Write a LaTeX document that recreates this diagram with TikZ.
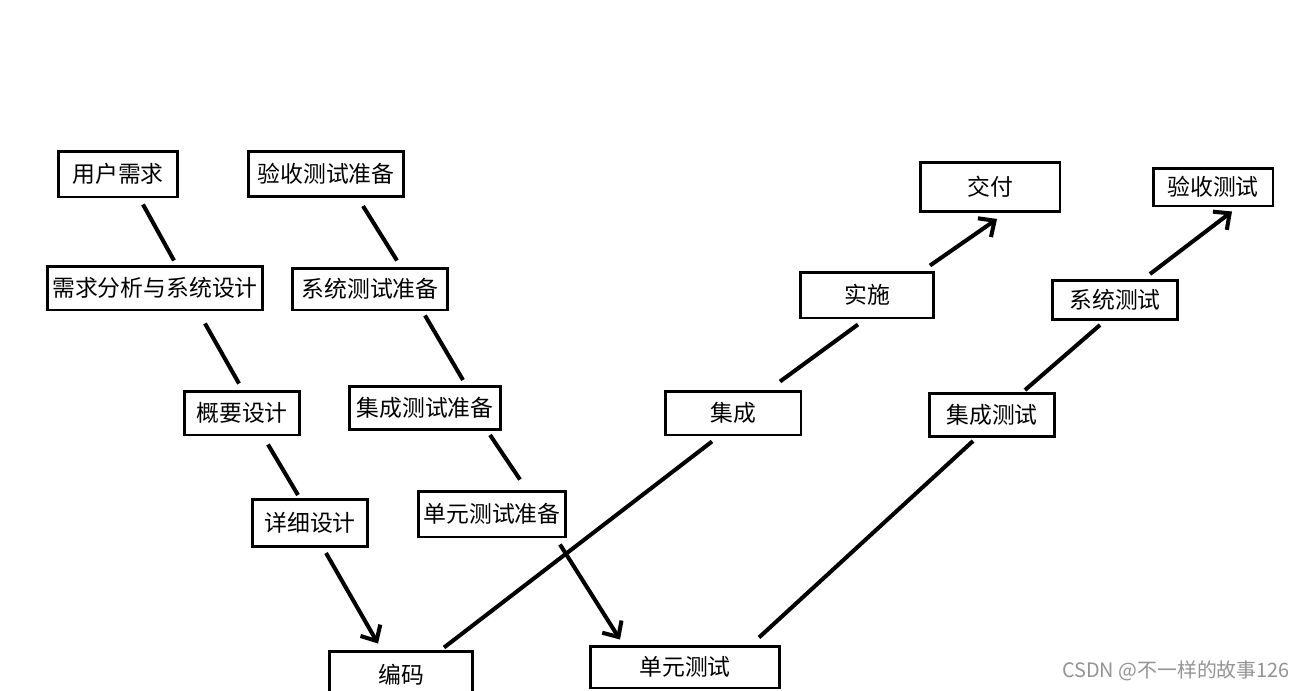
\documentclass[tikz,border=0pt]{standalone}
\usepackage{fontspec}
\setmainfont{Noto Sans CJK SC}
\usetikzlibrary{arrows.meta,calc}

\begin{document}
\begin{tikzpicture}[x=0.02cm,y=-0.02cm]
\tikzset{stagebox/.style={draw,line width=1.7pt,inner sep=0pt,minimum height=0.88cm,font=\fontsize{13}{15}\selectfont}}
\tikzset{link/.style={line width=2.3pt}}
\tikzset{flow/.style={line width=2.3pt,-{Straight Barb[length=7pt,width=13pt,line width=2.3pt]}}}
\useasboundingbox (0,0) rectangle (1305,690);
\fill [white] (0,0) rectangle (1305,690);
\node [stagebox,minimum width=2.4cm,minimum height=0.92cm] (usr) at (118,174) {用户需求};
\node [stagebox,minimum width=4.32cm] (req) at (155,288) {需求分析与系统设计};
\node [stagebox,minimum width=2.3cm] (gaiyao) at (242,413) {概要设计};
\node [stagebox,minimum width=2.32cm,minimum height=0.94cm] (xiangxi) at (310,523) {详细设计};
\node [stagebox,minimum width=2.86cm,minimum height=0.96cm] (bianma) at (401,675) {编码};
\node [stagebox,minimum width=3.1cm,minimum height=0.9cm] (yszb) at (326,174) {验收测试准备};
\node [stagebox,minimum width=3.12cm,minimum height=0.84cm] (xtzb) at (370,289) {系统测试准备};
\node [stagebox,minimum width=3.04cm,minimum height=0.86cm] (jczb) at (425,408) {集成测试准备};
\node [stagebox,minimum width=2.94cm,minimum height=0.92cm] (dyzb) at (492,514) {单元测试准备};
\node [stagebox,minimum width=3.8cm,minimum height=0.84cm] (dycs) at (685,667) {单元测试};
\node [stagebox,minimum width=2.72cm] (jicheng) at (733,413) {集成};
\node [stagebox,minimum width=2.66cm,minimum height=0.92cm] (shishi) at (867,295) {实施};
\node [stagebox,minimum width=2.8cm,minimum height=0.98cm] (jiaofu) at (990,187) {交付};
\node [stagebox,minimum width=2.5cm,minimum height=0.86cm] (jccs) at (992,415) {集成测试};
\node [stagebox,minimum width=2.5cm,minimum height=0.78cm] (xtcs) at (1115,300) {系统测试};
\node [stagebox,minimum width=2.4cm,minimum height=0.76cm] (yscs) at (1213,187) {验收测试};
\node [text=black!42,font=\fontsize{11.3}{13}\selectfont] (mark) at (1176,671) {CSDN @不一样的故事126};
\draw [link] ($(usr.south)+(25,6)$) -- ($(req.north)+(19,-4)$);
\draw [link] ($(req.south)+(50,12)$) -- ($(gaiyao.north)+(-3,-6)$);
\draw [link] ($(gaiyao.south)+(26,8)$) -- ($(xiangxi.north)+(-12,-3)$);
\draw [flow] ($(xiangxi.south)+(16,5)$) -- ($(bianma.north)+(-23,-6)$);
\draw [link] ($(yszb.south)+(37,8)$) -- ($(xtzb.north)+(27,-6)$);
\draw [link] ($(xtzb.south)+(55,4)$) -- ($(jczb.north)+(38,-5)$);
\draw [link] ($(jczb.south)+(65,4)$) -- ($(dyzb.north)+(28,-10)$);
\draw [flow] ($(dyzb.south)+(68,6)$) -- ($(dycs.north)+(-65,-5)$);
\draw [link] ($(bianma.north)+(43,-2)$) -- ($(jicheng.south)+(-21,5)$);
\draw [link] ($(jicheng.north)+(47,-8)$) -- ($(shishi.south)+(-9,5)$);
\draw [flow] ($(shishi.north)+(63,-5)$) -- ($(jiaofu.south)+(7,6)$);
\draw [link] ($(dycs.north)+(74,-7)$) -- ($(jccs.south)+(-19,3)$);
\draw [link] ($(jccs.north)+(33,-2)$) -- ($(xtcs.south)+(-15,4)$);
\draw [flow] ($(xtcs.north)+(35,-5)$) -- ($(yscs.south)+(19,4)$);
\end{tikzpicture}
\end{document}
